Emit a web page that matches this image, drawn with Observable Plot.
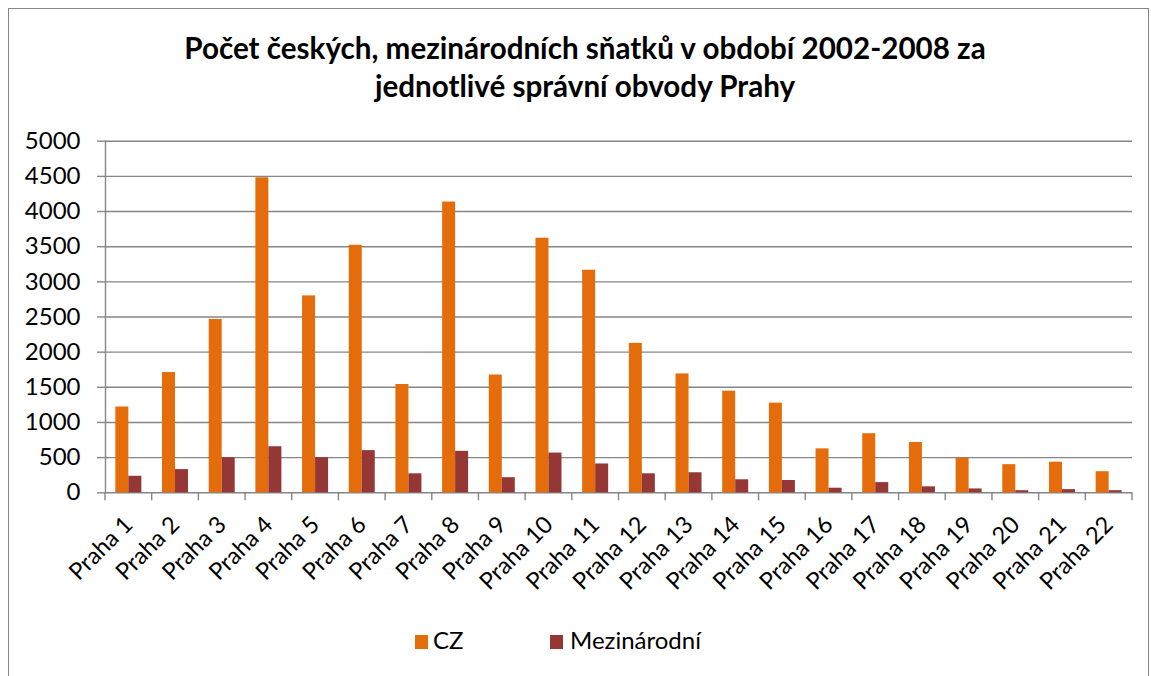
<!DOCTYPE html>
<html>
<head>
<meta charset="utf-8">
<script src="https://cdn.jsdelivr.net/npm/d3@7"></script>
<script src="https://cdn.jsdelivr.net/npm/@observablehq/plot@0.6"></script>
<style>
html, body { margin: 0; padding: 0; background: #fff; overflow: hidden; width: 1151px; height: 676px; }
#frame { position: absolute; left: 8px; top: 8px; width: 1141px; height: 720px; border: 1.5px solid #878787; box-sizing: border-box; }
#title { position: absolute; left: 0; top: 29px; width: 1170px; text-align: center; font-family: Lato; font-weight: 700; font-size: 29.6px; line-height: 38px; color: #000; }
#chart { position: absolute; left: 0; top: 120px; }
.sw { position: absolute; top: 635px; width: 13px; height: 14px; }
.lt { position: absolute; top: 628px; font-family: Lato; font-size: 24px; line-height: 24px; color: #000; white-space: nowrap; }
</style>
</head>
<body>
<div id="frame"></div>
<div id="title">Počet českých, mezinárodních sňatků v období 2002-2008 za<br>jednotlivé správní obvody Prahy</div>
<div id="chart"></div>
<div id="legend"></div>
<script>
const categories = ["Praha 1","Praha 2","Praha 3","Praha 4","Praha 5","Praha 6","Praha 7","Praha 8","Praha 9","Praha 10","Praha 11","Praha 12","Praha 13","Praha 14","Praha 15","Praha 16","Praha 17","Praha 18","Praha 19","Praha 20","Praha 21","Praha 22"];
const series = ["CZ", "Mezinárodní"];
const czValues = [1220, 1710, 2465, 4480, 2800, 3520, 1540, 4135, 1675, 3620, 3165, 2125, 1690, 1445, 1275, 625, 840, 715, 490, 400, 435, 300];
const mezValues = [235, 330, 500, 655, 500, 600, 270, 590, 215, 565, 410, 270, 285, 185, 175, 65, 145, 85, 55, 30, 45, 30];
const yTicks = [0, 500, 1000, 1500, 2000, 2500, 3000, 3500, 4000, 4500, 5000];
const colors = ["#E46C0A", "#953735"];

const W = 1151, H = 480, ML = 105, MR = 19, MT = 20.7, MB = 107.7;
const gray = "#868686";
const pInner = 0.443;
const step = (W - ML - MR) / categories.length;
const bw = step * (1 - pInner);

const rows = categories.map((c, i) => ({cat: c, cz: czValues[i], mez: mezValues[i]}));

const chart = Plot.plot({
  width: W, height: H,
  marginLeft: ML, marginRight: MR, marginTop: MT, marginBottom: MB,
  style: {fontFamily: "Lato", fontSize: "24px", color: "#000", background: "transparent", overflow: "visible"},
  x: {domain: categories, paddingInner: pInner, paddingOuter: pInner / 2, round: false, label: null},
  y: {domain: [0, 5000], label: null},
  marks: [
    Plot.ruleY(yTicks, {stroke: gray, strokeWidth: 1.4}),
    Plot.barY(rows, {x: "cat", y: "cz", fill: colors[0], insetRight: bw / 2}),
    Plot.barY(rows, {x: "cat", y: "mez", fill: colors[1], insetLeft: bw / 2}),
    Plot.frame({anchor: "left", stroke: gray, strokeWidth: 1.4}),
    Plot.axisY({ticks: yTicks, tickSize: 8, tickPadding: 17, stroke: gray, strokeWidth: 1.4, label: null, fontSize: 24, tickFormat: d => String(d)}),
    Plot.axisX({tickSize: 0, tickPadding: 28, tickRotate: -45, label: null, fontSize: 23.5})
  ]
});

// category boundary tick marks (Excel style), from the library's scales
const xs = chart.scale("x"), ys = chart.scale("y");
const y0 = ys.apply(0);
const half = (xs.step - xs.bandwidth) / 2;
const bounds = categories.map(c => xs.apply(c) - half);
bounds.push(xs.apply(categories[categories.length - 1]) + xs.bandwidth + half);
d3.select(chart).append("g")
  .selectAll("line").data(bounds).join("line")
  .attr("x1", d => d).attr("x2", d => d)
  .attr("y1", y0).attr("y2", y0 + 8)
  .attr("stroke", gray).attr("stroke-width", 1.4);

document.getElementById("chart").appendChild(chart);

// legend
const legend = document.getElementById("legend");
const legendX = [[415, 433], [550, 570]];
series.forEach((s, i) => {
  const sw = document.createElement("div");
  sw.className = "sw"; sw.style.left = legendX[i][0] + "px"; sw.style.background = colors[i];
  const t = document.createElement("div");
  t.className = "lt"; t.style.left = legendX[i][1] + "px"; t.textContent = s;
  legend.appendChild(sw); legend.appendChild(t);
});
</script>
</body>
</html>
